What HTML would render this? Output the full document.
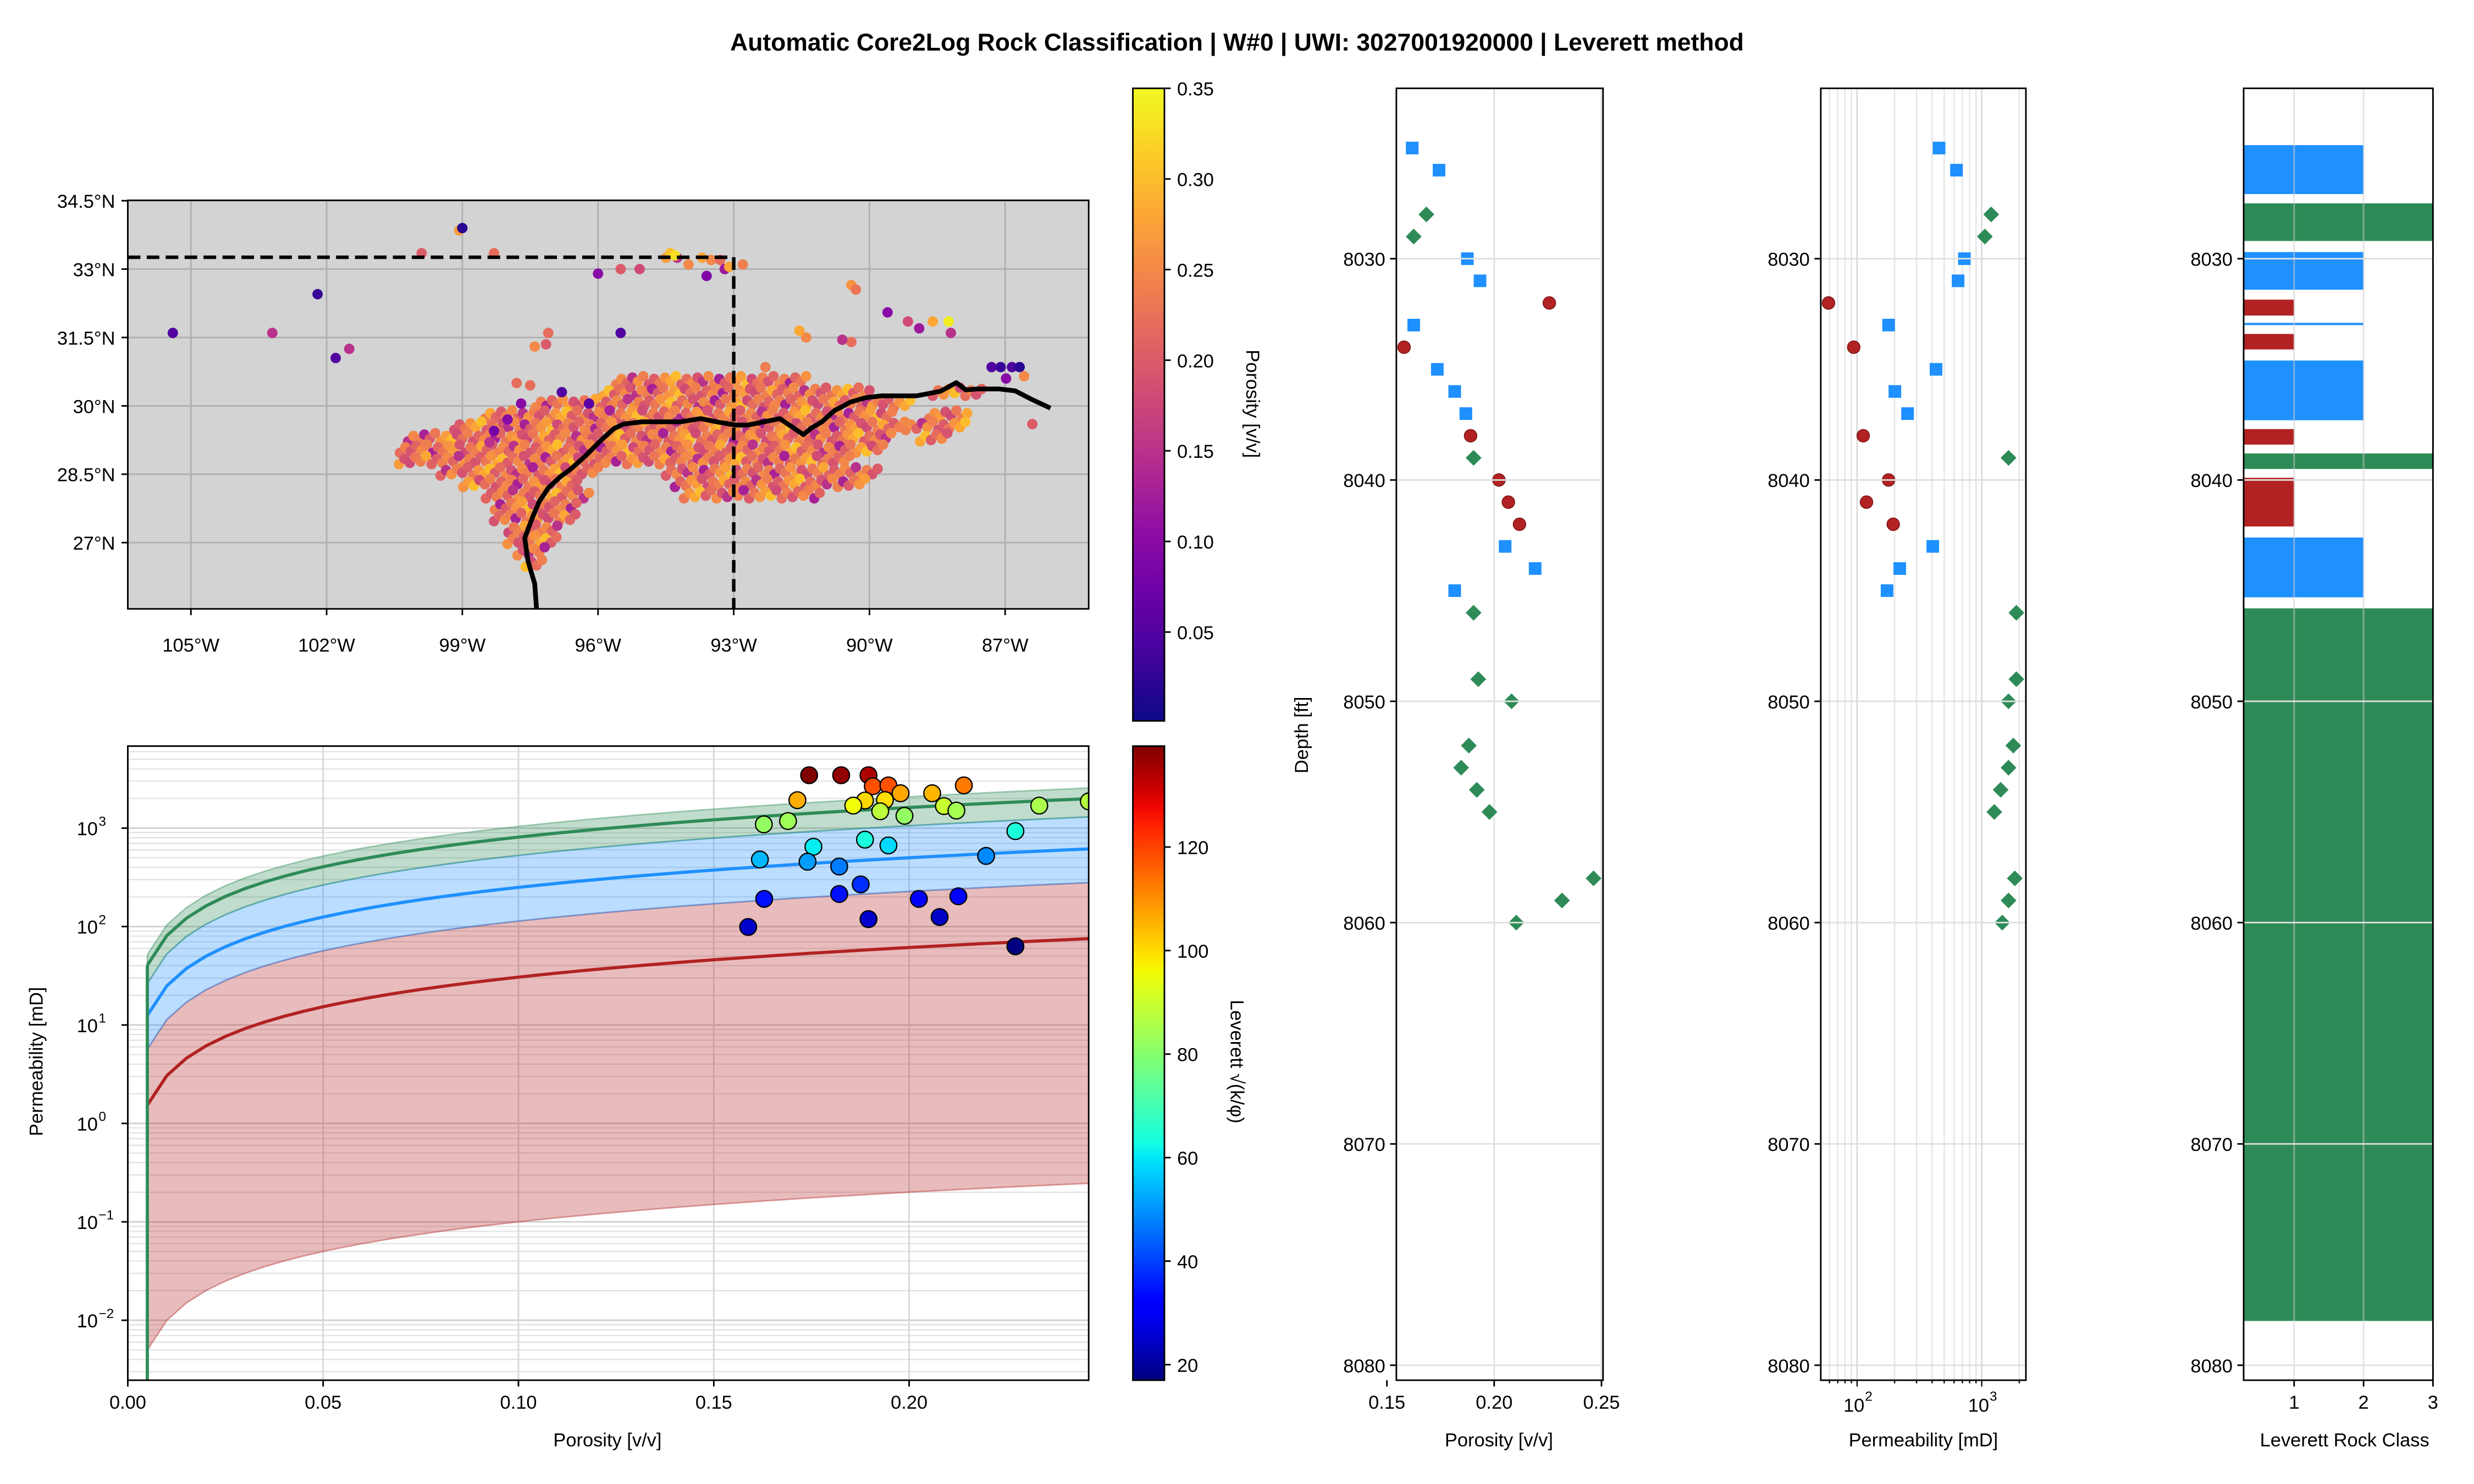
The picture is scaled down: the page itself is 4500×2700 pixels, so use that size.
<!DOCTYPE html>
<html><head><meta charset="utf-8"><title>Core2Log Rock Classification</title>
<style>
html,body{margin:0;padding:0;background:#fff;}
svg{display:block;font-family:"Liberation Sans","DejaVu Sans",sans-serif;}
</style></head>
<body>
<svg id="fig" xmlns="http://www.w3.org/2000/svg" width="4500" height="2700" viewBox="0 0 1568 940.8">
<rect x="0" y="0" width="1568" height="940.8" fill="#fff"/>
<text x="784" y="32" text-anchor="middle" font-size="15.5" font-weight="bold">Automatic Core2Log Rock Classification | W#0 | UWI: 3027001920000 | Leverett method</text>
<defs>
<clipPath id="mapClip"><rect x="81" y="127" width="609" height="259"/></clipPath>
<clipPath id="xpClip"><rect x="81" y="473" width="609" height="402"/></clipPath>
<clipPath id="p2Clip"><rect x="885" y="56" width="131" height="819"/></clipPath>
<clipPath id="p3Clip"><rect x="1154" y="56" width="130" height="819"/></clipPath>
<clipPath id="p4Clip"><rect x="1422" y="56" width="120" height="819"/></clipPath>
<linearGradient id="plasmaGrad" x1="0" y1="1" x2="0" y2="0"></linearGradient>
<linearGradient id="jetGrad" x1="0" y1="1" x2="0" y2="0"></linearGradient>
</defs>
<g id="map"></g>
<g id="cb1"></g>
<g id="xp"></g>
<g id="cb2"></g>
<g id="p2"></g>
<g id="p3"></g>
<g id="p4"></g>
</svg>
<script>
// ===== DATA =====
const wellDepth = [8025,8026,8028,8029,8030,8031,8032,8033,8034,8035,8036,8037,8038,8039,8040,8041,8042,8043,8044,8045,8046,8049,8050,8052,8053,8054,8055,8058,8059,8060];
const wellPhi   = [0.1618,0.1743,0.1684,0.1625,0.1875,0.1934,0.2257,0.1625,0.158,0.1735,0.1816,0.1868,0.189,0.1904,0.2022,0.2066,0.2118,0.2051,0.2191,0.1816,0.1904,0.1926,0.2081,0.1882,0.1846,0.1919,0.1978,0.2463,0.2316,0.2103];
const wellPerm  = [455,627,1191,1060,726,646,59,179,94,430,201,254,112,1641,179,119,195,405,220,174,1897,1897,1641,1791,1641,1419,1262,1843,1641,1462];
const wellClass = [2,2,3,3,2,2,1,2,1,2,2,2,1,3,1,1,1,2,2,2,3,3,3,3,3,3,3,3,3,3];
const corePhi = [0.1744,0.1826,0.1896,0.1907,0.1947,0.1978,0.1714,0.1887,0.1938,0.2059,0.2140,0.1857,0.1926,0.1988,0.2089,0.2121,0.2333,0.2460,0.1628,0.1690,0.2272,0.1755,0.1887,0.1947,0.1618,0.1740,0.1821,0.2197,0.1876,0.1629,0.1821,0.2025,0.2126,0.1588,0.1896,0.2078,0.2272];
const corePerm = [3447,3447,3447,2661,2716,2260,1923,1907,1928,2260,2716,1694,1483,1333,1675,1507,1694,1870,1092,1180,933,647,764,667,480,456,407,522,268,191,214,191,203,99,119,125,63];
const bandLow  = [1, 33.7, 72.7];
const bandHigh = [33.7, 72.7, 102];
const lineL    = [17.5, 50, 90];
const classColors = ['#b22222','#1e90ff','#2e8b57'];
const classTop = [8024.87,8027.5,8029.7,8031.85,8032.9,8033.4,8034.6,8037.7,8038.8,8039.9,8042.6,8045.8];
const classBot = [8027.08,8029.2,8031.4,8032.57,8033.0,8034.1,8037.3,8038.4,8039.5,8042.1,8045.3,8078.0];
const classVal = [2,3,2,1,2,1,2,1,3,1,2,3];
const mapLon = [-99.07,-99.0,-99.9,-98.3,-102.2,-103.2,-105.4,-101.8,-101.5,-96.0,-95.5,-95.08,-94.5,-94.4,-94.25,-94.0,-93.7,-93.5,-93.3,-94.3,-90.4,-90.3,-89.6,-89.15,-88.9,-88.6,-88.25,-88.2,-95.5,-97.15,-97.1,-97.4,-97.8,-90.4,-90.6,-91.4,-91.55,-92.3,-87.3,-87.1,-86.85,-86.68,-86.58,-86.98,-86.4,-97.5,-97.7,-96.8,-96.2,-98.0,-98.3,-98.4,-93.2,-93.1,-92.8,-93.6];
const mapLat = [33.85,33.9,33.35,33.35,32.45,31.6,31.6,31.05,31.25,32.9,33.0,33.0,33.25,33.35,33.25,33.1,33.25,33.2,33.2,33.3,32.65,32.55,32.05,31.85,31.7,31.85,31.85,31.6,31.6,31.35,31.6,31.3,30.5,31.4,31.45,31.5,31.65,30.85,30.85,30.85,30.85,30.85,30.65,30.6,29.6,30.45,30.05,30.3,30.05,29.7,29.45,29.2,33.0,33.05,33.1,32.85];
const mapPor = [0.27,0.02,0.2,0.22,0.03,0.15,0.05,0.05,0.15,0.1,0.2,0.18,0.27,0.3,0.15,0.25,0.28,0.25,0.22,0.33,0.26,0.23,0.1,0.18,0.12,0.28,0.34,0.15,0.05,0.2,0.22,0.25,0.22,0.22,0.15,0.25,0.28,0.24,0.05,0.03,0.05,0.02,0.25,0.1,0.2,0.22,0.1,0.05,0.06,0.1,0.08,0.15,0.12,0.28,0.24,0.09];
const beltLat   = [30.5,30.25,30.25,30.0,29.75,29.5,29.25,29.0,28.75,28.5,28.5,28.25,28.25,28.0,28.0,27.75,27.5,27.25,27.0,26.75,26.5,29.75,29.5,29.25];
const beltStart = [-95.6,-96.0,-88.6,-97.5,-98.5,-99.3,-100.2,-100.5,-100.4,-99.6,-94.5,-99.1,-94.3,-98.6,-94.1,-98.4,-98.3,-98.1,-98.0,-97.9,-97.6,-88.8,-89.2,-89.0];
const beltEnd   = [-91.5,-90.0,-87.6,-89.0,-89.5,-89.3,-89.6,-89.8,-90.4,-96.0,-89.8,-96.4,-90.0,-96.3,-91.0,-96.5,-96.6,-96.8,-97.0,-97.1,-97.2,-87.8,-88.0,-88.3];
const porCycle  = [0.24,0.21,0.26,0.19,0.23,0.28,0.2,0.25,0.15,0.24,0.2,0.26,0.3,0.22,0.19,0.25,0.13,0.23,0.27,0.18,0.24,0.21];
const coastLon = [-97.36,-97.4,-97.55,-97.62,-97.45,-97.3,-97.1,-96.83,-96.62,-96.28,-95.93,-95.65,-95.44,-95.02,-94.6,-94.18,-93.73,-93.38,-92.96,-92.68,-92.33,-91.98,-91.67,-91.46,-91.29,-91.05,-90.77,-90.57,-90.43,-90.08,-89.73,-89.38,-88.96,-88.43,-88.08,-87.87,-87.62,-87.13,-86.78,-86.43,-86.0];
const coastLat = [25.55,26.1,26.6,27.1,27.55,27.9,28.2,28.45,28.6,28.9,29.25,29.5,29.6,29.65,29.65,29.65,29.72,29.65,29.58,29.58,29.65,29.72,29.51,29.37,29.51,29.65,29.9,30.0,30.08,30.18,30.22,30.22,30.22,30.32,30.51,30.35,30.37,30.37,30.33,30.15,29.95];
const wellLon = -93.0, wellLat = 33.26;
const lonTicks = [-105,-102,-99,-96,-93,-90,-87];
const latTicks = [34.5,33,31.5,30,28.5,27];
const porCbTicks = [0.05,0.10,0.15,0.20,0.25,0.30,0.35];
const levCbTicks = [20,40,60,80,100,120];
const xpXTicks = [0,0.05,0.10,0.15,0.20];
const xpYTicks = [-2,-1,0,1,2,3];
const depthTicks = [8030,8040,8050,8060,8070,8080];
const phiTicks = [0.15,0.20,0.25];
const permTicks = [2,3];
const classTicks = [1,2,3];

// ===== helpers =====
const NS='http://www.w3.org/2000/svg';
function mk(parent,tag,attrs,text){const e=document.createElementNS(NS,tag);for(const k in attrs)e.setAttribute(k,attrs[k]);if(text!==undefined)e.textContent=text;parent.appendChild(e);return e;}
function lerpStops(stops,t){t=Math.max(0,Math.min(1,t));for(let i=1;i<stops.length;i++){if(t<=stops[i][0]){const a=stops[i-1],b=stops[i];const f=(t-a[0])/(b[0]-a[0]||1);return a[1]+(b[1]-a[1])*f;}}return stops[stops.length-1][1];}
const plasmaHex=['#0d0887','#41049d','#6a00a8','#8f0da4','#b12a90','#cc4778','#e16462','#f2844b','#fca636','#fcce25','#f0f921'];
function hex2rgb(h){return [parseInt(h.slice(1,3),16),parseInt(h.slice(3,5),16),parseInt(h.slice(5,7),16)];}
function plasma(t){t=Math.max(0,Math.min(1,t));const s=t*10,i=Math.min(9,Math.floor(s)),f=s-i;const a=hex2rgb(plasmaHex[i]),b=hex2rgb(plasmaHex[i+1]);return 'rgb('+a.map((v,k)=>Math.round(v+(b[k]-v)*f)).join(',')+')';}
function jet(t){const r=lerpStops([[0,0],[0.35,0],[0.66,1],[0.89,1],[1,0.5]],t),g=lerpStops([[0,0],[0.125,0],[0.375,1],[0.64,1],[0.91,0],[1,0]],t),b=lerpStops([[0,0.5],[0.11,1],[0.34,1],[0.65,0],[1,0]],t);return 'rgb('+[r,g,b].map(v=>Math.round(v*255)).join(',')+')';}
const FS=12;

// ===== MAP =====
const map=document.getElementById('map');
const lonX=lon=>121+(lon+105)*28.67;
const latY=lat=>344-(lat-27)*28.9;
const porMin=0.001,porMax=0.35;
let el;
el=mk(map,'rect',{x:81,y:127,width:609,height:259,fill:'#d3d3d3'});


const mg=mk(map,'g',{'clip-path':'url(#mapClip)'});
lonTicks.forEach(v=>{
  el=mk(mg,'line',{x1:lonX(v),x2:lonX(v),y1:127,y2:386,stroke:'#b0b0b0','stroke-width':1});
  
  
});
latTicks.forEach(v=>{
  el=mk(mg,'line',{x1:81,x2:690,y1:latY(v),y2:latY(v),stroke:'#b0b0b0','stroke-width':1});
  
  
});
beltLat.forEach((lat,r)=>{
  let c=0;
  const off=(r%2)*0.12;
  for(let lon=beltStart[r]+off;lon<=beltEnd[r];lon+=0.24){
    for(let j=0;j<2;j++){
      const la=lat+(j?0.12:0)+((c%3)-1)*0.03;
      el=mk(mg,'circle',{cx:lonX(lon+(j?0.12:0)),cy:latY(la),r:3.3,fill:plasma((porCycle[(c+r*5+j*7)%porCycle.length]-porMin)/(porMax-porMin))});
      
      
    }
    c++;
  }
});
mapLon.forEach((lon,i)=>{
  el=mk(mg,'circle',{cx:lonX(lon),cy:latY(mapLat[i]),r:3.3,fill:plasma((mapPor[i]-porMin)/(porMax-porMin))});
  
  
});
el=mk(mg,'polyline',{points:coastLon.map((v,i)=>lonX(v)+','+latY(coastLat[i])).join(' '),fill:'none',stroke:'#000','stroke-width':3,'stroke-linejoin':'round'});


el=mk(mg,'line',{x1:81,x2:lonX(wellLon),y1:latY(wellLat),y2:latY(wellLat),stroke:'#000','stroke-width':2.2,'stroke-dasharray':'8,4'});


el=mk(mg,'line',{x1:lonX(wellLon),x2:lonX(wellLon),y1:latY(wellLat),y2:386,stroke:'#000','stroke-width':2.2,'stroke-dasharray':'8,4'});


el=mk(map,'rect',{x:81,y:127,width:609,height:259,fill:'none',stroke:'#000','stroke-width':1});


lonTicks.forEach(v=>{
  mk(map,'line',{x1:lonX(v),x2:lonX(v),y1:386,y2:390,stroke:'#000'});
  el=mk(map,'text',{x:lonX(v),y:413,'text-anchor':'middle','font-size':FS},Math.abs(v)+'°W');
  
  
});
latTicks.forEach(v=>{
  mk(map,'line',{x1:77,x2:81,y1:latY(v),y2:latY(v),stroke:'#000'});
  el=mk(map,'text',{x:73,y:latY(v)+4.5,'text-anchor':'end','font-size':FS},v+'°N');
  
  
});

// ===== colorbars =====
const pg=document.getElementById('plasmaGrad');
for(let i=0;i<=20;i++){mk(pg,'stop',{offset:(i/20),'stop-color':plasma(i/20)});}
const jg=document.getElementById('jetGrad');
for(let i=0;i<=40;i++){mk(jg,'stop',{offset:(i/40),'stop-color':jet(i/40)});}
const cb1=document.getElementById('cb1');
const cb1Y=v=>457-(v-porMin)/(porMax-porMin)*401;
el=mk(cb1,'rect',{x:718,y:56,width:20,height:401,fill:'url(#plasmaGrad)',stroke:'#000','stroke-width':1});


porCbTicks.forEach(v=>{
  mk(cb1,'line',{x1:738,x2:742,y1:cb1Y(v),y2:cb1Y(v),stroke:'#000'});
  el=mk(cb1,'text',{x:746,y:cb1Y(v)+4.5,'font-size':FS},v.toFixed(2));
  
  
});
el=mk(cb1,'text',{x:790,y:256,'text-anchor':'middle','font-size':FS,transform:'rotate(90 790 256)'},'Porosity [v/v]');



const levMin=17,levMax=139.5;
const cb2=document.getElementById('cb2');
const cb2Y=v=>875-(v-levMin)/(levMax-levMin)*402;
el=mk(cb2,'rect',{x:718,y:473,width:20,height:402,fill:'url(#jetGrad)',stroke:'#000','stroke-width':1});


levCbTicks.forEach(v=>{
  mk(cb2,'line',{x1:738,x2:742,y1:cb2Y(v),y2:cb2Y(v),stroke:'#000'});
  el=mk(cb2,'text',{x:746,y:cb2Y(v)+4.5,'font-size':FS},String(v));
  
  
});
el=mk(cb2,'text',{x:780,y:673,'text-anchor':'middle','font-size':FS,transform:'rotate(90 780 673)'},'Leverett √(k/φ)');



// ===== CROSSPLOT =====
const xp=document.getElementById('xp');
const xpX=p=>81+p*2476;
const xpY=k=>525-(Math.log10(k)-3)*62.4;
const xg=mk(xp,'g',{'clip-path':'url(#xpClip)'});
for(let d=-3;d<=3;d++){for(let m=1;m<10;m++){const yy=xpY(m*Math.pow(10,d));
  el=mk(xg,'line',{x1:81,x2:690,y1:yy,y2:yy,stroke:m===1?'#d0d0d0':'#e2e2e2','stroke-width':m===1?1:0.8});
  
  
}}
xpXTicks.forEach(v=>{
  el=mk(xg,'line',{x1:xpX(v),x2:xpX(v),y1:473,y2:875,stroke:'#d8d8d8','stroke-width':1});
  
  
});
const phiSamples=[];for(let p=0.005;p<=0.2501;p+=0.005)phiSamples.push(p);
const bandFills=['#b22222','#1e90ff','#2e8b57'];
bandLow.forEach((lo,i)=>{
  const hi=bandHigh[i];
  const top=phiSamples.map(p=>xpX(p)+','+xpY(p*hi*hi));
  const bot=phiSamples.slice().reverse().map(p=>xpX(p)+','+xpY(p*lo*lo));
  el=mk(xg,'polygon',{points:top.concat(bot).join(' '),fill:bandFills[i],'fill-opacity':0.3,stroke:bandFills[i],'stroke-opacity':0.4,'stroke-width':1});
  
  
});
lineL.forEach((L,i)=>{
  el=mk(xg,'polyline',{points:phiSamples.map(p=>xpX(p)+','+xpY(p*L*L)).join(' '),fill:'none',stroke:classColors[i],'stroke-width':2});
  
  
});
el=mk(xg,'line',{x1:xpX(0.005),x2:xpX(0.005),y1:xpY(0.005*lineL[2]*lineL[2]),y2:875,stroke:classColors[2],'stroke-width':2});


corePhi.forEach((p,i)=>{
  const L=Math.sqrt(corePerm[i]/p);
  el=mk(xg,'circle',{cx:xpX(p),cy:xpY(corePerm[i]),r:5.3,fill:jet((L-levMin)/(levMax-levMin)),stroke:'#000','stroke-width':0.8});
  
  
});
el=mk(xp,'rect',{x:81,y:473,width:609,height:402,fill:'none',stroke:'#000','stroke-width':1});


xpXTicks.forEach(v=>{
  mk(xp,'line',{x1:xpX(v),x2:xpX(v),y1:875,y2:879,stroke:'#000'});
  el=mk(xp,'text',{x:xpX(v),y:893,'text-anchor':'middle','font-size':FS},v.toFixed(2));
  
  
});
xpYTicks.forEach(e=>{
  const yy=xpY(Math.pow(10,e));
  mk(xp,'line',{x1:77,x2:81,y1:yy,y2:yy,stroke:'#000'});
  el=mk(xp,'text',{x:62,y:yy+4.5,'text-anchor':'end','font-size':FS},'10');
  
  
  el=mk(xp,'text',{x:62.5,y:yy-1.5,'font-size':8.5},String(e).replace('-','−'));
  
  
});
el=mk(xp,'text',{x:385,y:917,'text-anchor':'middle','font-size':FS},'Porosity [v/v]');


el=mk(xp,'text',{x:27,y:673,'text-anchor':'middle','font-size':FS,transform:'rotate(-90 27 673)'},'Permeability [mD]');



// ===== DEPTH TRACKS =====
const yD=d=>164+(d-8030)*14.03;
function depthAxis(g,x0,w){
  depthTicks.forEach(d=>{
    el=mk(g,'line',{x1:x0,x2:x0+w,y1:yD(d),y2:yD(d),stroke:'#e0e0e0','stroke-width':1});
    
    
    mk(g,'line',{x1:x0-4,x2:x0,y1:yD(d),y2:yD(d),stroke:'#000'});
    el=mk(g,'text',{x:x0-7,y:yD(d)+4.5,'text-anchor':'end','font-size':FS},String(d));
    
    
  });
}
function frame(g,x0,w,name){
  el=mk(g,'rect',{x:x0,y:56,width:w,height:819,fill:'none',stroke:'#000','stroke-width':1});
  
  
}
function marker(g,cls,x,y){
  if(cls===2){el=mk(g,'rect',{x:x-4,y:y-4,width:8,height:8,fill:'#1e90ff'});}
  else if(cls===3){el=mk(g,'polygon',{points:`${x},${y-5} ${x+5},${y} ${x},${y+5} ${x-5},${y}`,fill:'#2e8b57'});}
  else {el=mk(g,'circle',{cx:x,cy:y,r:4,fill:'#b22222',stroke:'#7a1515','stroke-width':0.5});}
  return el;
}
const p2=document.getElementById('p2');
const phiX=p=>947+(p-0.2)*1360;
const g2=mk(p2,'g',{'clip-path':'url(#p2Clip)'});
depthAxis(p2,885,131);
phiTicks.forEach(v=>{
  el=mk(g2,'line',{x1:phiX(v),x2:phiX(v),y1:56,y2:875,stroke:'#e0e0e0'});
  
  
  mk(p2,'line',{x1:phiX(v),x2:phiX(v),y1:875,y2:879,stroke:'#000'});
  el=mk(p2,'text',{x:phiX(v),y:893,'text-anchor':'middle','font-size':FS},v.toFixed(2));
  
  
});
wellDepth.forEach((d,i)=>{
  el=marker(g2,wellClass[i],phiX(wellPhi[i]),yD(d));
  
  
});
frame(p2,885,131,'porosity-track-frame');
el=mk(p2,'text',{x:950,y:917,'text-anchor':'middle','font-size':FS},'Porosity [v/v]');


el=mk(p2,'text',{x:829,y:466,'text-anchor':'middle','font-size':FS,transform:'rotate(-90 829 466)'},'Depth [ft]');



const p3=document.getElementById('p3');
const kX=k=>1177+(Math.log10(k)-2)*79;
const g3=mk(p3,'g',{'clip-path':'url(#p3Clip)'});
depthAxis(p3,1154,130);
for(let d=1;d<=3;d++){for(let m=1;m<10;m++){const xx=kX(m*Math.pow(10,d));
  el=mk(g3,'line',{x1:xx,x2:xx,y1:56,y2:875,stroke:m===1?'#d8d8d8':'#e6e6e6','stroke-width':0.9});
  
  
  if(xx>1154&&xx<1284)mk(p3,'line',{x1:xx,x2:xx,y1:875,y2:m===1?879:877,stroke:'#000','stroke-width':0.8});
}}
permTicks.forEach(e=>{
  el=mk(p3,'text',{x:kX(Math.pow(10,e))-2,y:895,'text-anchor':'middle','font-size':FS},'10');
  
  
  el=mk(p3,'text',{x:kX(Math.pow(10,e))+5,y:888,'font-size':8.5},String(e));
  
  
});
wellDepth.forEach((d,i)=>{
  el=marker(g3,wellClass[i],kX(wellPerm[i]),yD(d));
  
  
});
frame(p3,1154,130,'permeability-track-frame');
el=mk(p3,'text',{x:1219,y:917,'text-anchor':'middle','font-size':FS},'Permeability [mD]');



const p4=document.getElementById('p4');
const cX=c=>1454+(c-1)*44;
const g4=mk(p4,'g',{'clip-path':'url(#p4Clip)'});
depthAxis(p4,1422,120);
classTop.forEach((t,i)=>{
  const yt=yD(t),yb=yD(classBot[i]);
  el=mk(g4,'rect',{x:1422,y:yt,width:cX(classVal[i])-1422,height:Math.max(1,yb-yt),fill:classColors[classVal[i]-1]});
  
  
});
classTicks.forEach(v=>{
  el=mk(g4,'line',{x1:cX(v),x2:cX(v),y1:56,y2:875,stroke:'#ccc','stroke-opacity':0.55,'stroke-width':1});
  
  
  mk(p4,'line',{x1:cX(v),x2:cX(v),y1:875,y2:879,stroke:'#000'});
  el=mk(p4,'text',{x:cX(v),y:893,'text-anchor':'middle','font-size':FS},String(v));
  
  
});
frame(p4,1422,120,'rock-class-track-frame');
el=mk(p4,'text',{x:1486,y:917,'text-anchor':'middle','font-size':FS},'Leverett Rock Class');


</script>
</body></html>
